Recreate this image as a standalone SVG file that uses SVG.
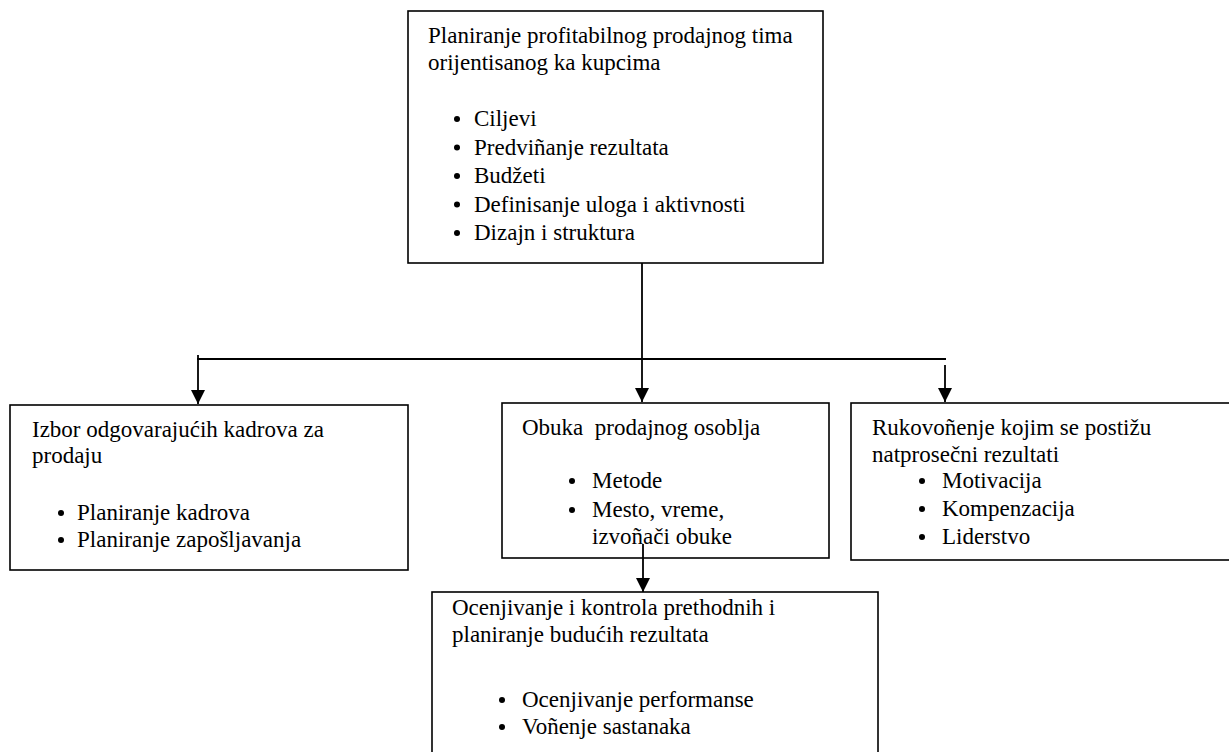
<svg xmlns="http://www.w3.org/2000/svg" width="1229" height="752" viewBox="0 0 1229 752">
  <style>
    .box { fill: #ffffff; stroke: #000000; stroke-width: 1.6; }
    .wire { fill: none; stroke: #000000; stroke-width: 1.8; }
    text { font-family: "Liberation Serif", "Times New Roman", serif; font-size: 23px; fill: #000000; }
    .dot { fill: #000000; }
  </style>
  <defs>
    <marker id="arrow" markerWidth="14" markerHeight="14" refX="14" refY="7" orient="auto" markerUnits="userSpaceOnUse">
      <path d="M0,0 L14,7 L0,14 Z" fill="#000000"/>
    </marker>
  </defs>

  <rect width="1229" height="752" fill="#ffffff"/>

  <!-- connectors -->
  <g id="connectors">
    <line class="wire" x1="642" y1="263" x2="642" y2="402" marker-end="url(#arrow)"/>
    <line class="wire" x1="197" y1="359" x2="946" y2="359"/>
    <line class="wire" x1="198" y1="355" x2="198" y2="404" marker-end="url(#arrow)"/>
    <line class="wire" x1="945" y1="365" x2="945" y2="402" marker-end="url(#arrow)"/>
  </g>

  <!-- planning -->
  <g id="node-planiranje">
    <rect class="box" x="408" y="11" width="415" height="252"/>
    <text x="428" y="43">Planiranje profitabilnog prodajnog tima</text>
    <text x="428" y="70">orijentisanog ka kupcima</text>
    <circle class="dot" cx="457" cy="119" r="3"/>
    <text x="474" y="126">Ciljevi</text>
    <circle class="dot" cx="457" cy="147.5" r="3"/>
    <text x="474" y="154.5">Predviñanje rezultata</text>
    <circle class="dot" cx="457" cy="176" r="3"/>
    <text x="474" y="183">Budžeti</text>
    <circle class="dot" cx="457" cy="204.5" r="3"/>
    <text x="474" y="211.5">Definisanje uloga i aktivnosti</text>
    <circle class="dot" cx="457" cy="233" r="3"/>
    <text x="474" y="240">Dizajn i struktura</text>
  </g>

  <!-- staff selection -->
  <g id="node-izbor">
    <rect class="box" x="10" y="405" width="398" height="165"/>
    <text x="32" y="437">Izbor odgovarajućih kadrova za</text>
    <text x="32" y="463">prodaju</text>
    <circle class="dot" cx="61" cy="513" r="3"/>
    <text x="77" y="520">Planiranje kadrova</text>
    <circle class="dot" cx="61" cy="540" r="3"/>
    <text x="77" y="547">Planiranje zapošljavanja</text>
  </g>

  <!-- training -->
  <g id="node-obuka">
    <rect class="box" x="502" y="403" width="327" height="155"/>
    <text x="522" y="435" xml:space="preserve">Obuka  prodajnog osoblja</text>
    <circle class="dot" cx="572" cy="481" r="3"/>
    <text x="592" y="488">Metode</text>
    <circle class="dot" cx="572" cy="510" r="3"/>
    <text x="592" y="517">Mesto, vreme,</text>
    <text x="592" y="544">izvoñači obuke</text>
  </g>

  <!-- leadership -->
  <g id="node-rukovodjenje">
    <rect class="box" x="851" y="403" width="390" height="157"/>
    <text x="872" y="435">Rukovoñenje kojim se postižu</text>
    <text x="872" y="462">natprosečni rezultati</text>
    <circle class="dot" cx="922" cy="481" r="3"/>
    <text x="942" y="488">Motivacija</text>
    <circle class="dot" cx="922" cy="509" r="3"/>
    <text x="942" y="516">Kompenzacija</text>
    <circle class="dot" cx="922" cy="537" r="3"/>
    <text x="942" y="544">Liderstvo</text>
  </g>

  <!-- evaluation -->
  <g id="node-ocenjivanje">
    <rect class="box" x="432" y="592" width="446" height="170"/>
    <text x="452" y="615">Ocenjivanje i kontrola prethodnih i</text>
    <text x="452" y="642">planiranje budućih rezultata</text>
    <circle class="dot" cx="502" cy="700" r="3"/>
    <text x="522" y="707">Ocenjivanje performanse</text>
    <circle class="dot" cx="502" cy="727" r="3"/>
    <text x="522" y="734">Voñenje sastanaka</text>
  </g>

  <!-- link from training down to evaluation, drawn over the boxes -->
  <g id="connectors-lower">
    <line class="wire" x1="643" y1="544" x2="643" y2="592" marker-end="url(#arrow)"/>
  </g>
</svg>
